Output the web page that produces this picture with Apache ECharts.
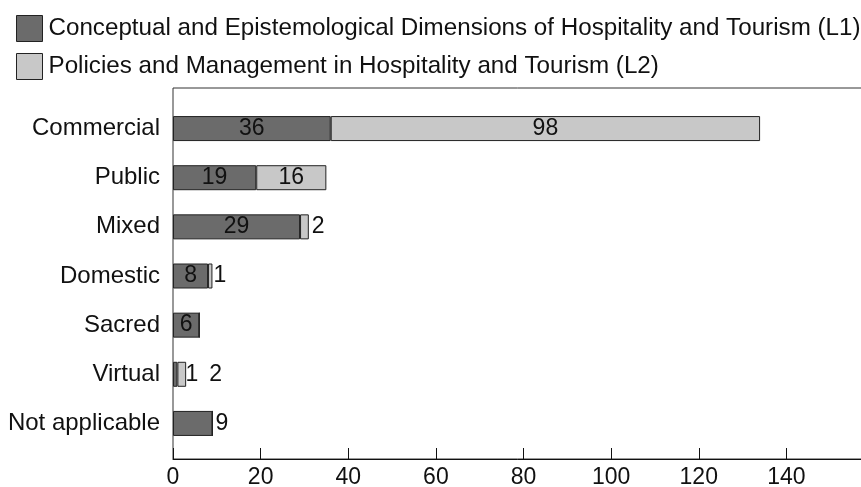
<!DOCTYPE html>
<html>
<head>
<meta charset="utf-8">
<script src="https://cdn.jsdelivr.net/npm/echarts@6/dist/echarts.min.js"></script>
<style>
  html, body { margin: 0; padding: 0; background: #fff; }
  #chart { width: 861px; height: 487px; }
</style>
</head>
<body>
<div id="chart"></div>
<script>
const categories = ['Commercial', 'Public', 'Mixed', 'Domestic', 'Sacred', 'Virtual', 'Not applicable']
const l1Values = [36, 19, 29, 8, 6, 1, 9]
const l2Values = [98, 16, 2, 1, 0, 2, 0]
const seriesNames = [
  'Conceptual and Epistemological Dimensions of Hospitality and Tourism (L1)',
  'Policies and Management in Hospitality and Tourism (L2)'
]
const xTicks = [0, 160, 20]

// labels that sit outside the bar, to the right (distance in px)
const l1Outside = { 'Virtual': 8, 'Not applicable': 3 }
const l2Outside = { 'Mixed': 3, 'Domestic': 1, 'Virtual': 23 }

const font = "'Liberation Sans', Arial, sans-serif"
const darkGrey = '#6b6b6b'
const lightGrey = '#c8c8c8'

const buildData = (values, outside) => values.map((v, i) => {
  const item = { value: v }
  const d = outside[categories[i]]
  if (d !== undefined) {
    item.label = { position: 'right', distance: d }
  }
  return item
})

const makeSeries = (name, values, outside, color) => ({
  name: name,
  type: 'bar',
  stack: 'total',
  xAxisIndex: 1,
  yAxisIndex: 1,
  barWidth: 25,
  data: buildData(values, outside),
  itemStyle: { color: color, borderColor: '#222', borderWidth: 1 },
  label: {
    show: true,
    position: 'inside',
    color: '#111',
    fontSize: 23,
    fontFamily: font,
    formatter: (p) => (p.value ? String(p.value) : '')
  },
  emphasis: { disabled: true }
})

const chart = echarts.init(document.getElementById('chart'))

const option = {
  animation: false,
  legend: {
    orient: 'vertical',
    left: 11,
    top: 10,
    itemWidth: 26,
    itemHeight: 26,
    itemGap: 11,
    icon: 'rect',
    data: seriesNames,
    textStyle: { fontSize: 24.2, fontFamily: font, color: '#111', padding: [0, 0, 0, 1] },
    itemStyle: { borderColor: '#222', borderWidth: 1 }
  },
  // plot runs past the right edge of the canvas, like the original figure
  grid: [
    { left: 173, top: 88, right: -13, bottom: 28, outerBoundsMode: 'none', show: true, borderColor: '#333', borderWidth: 1 },
    { left: 173, top: 104, right: -13, bottom: 39, outerBoundsMode: 'none' }
  ],
  xAxis: [
    {
      gridIndex: 0,
      type: 'value',
      min: xTicks[0],
      max: xTicks[1],
      interval: xTicks[2],
      splitLine: { show: false },
      axisLine: { show: true, lineStyle: { color: '#111', width: 1 } },
      axisTick: { show: true, inside: true, length: 11, lineStyle: { color: '#111' } },
      axisLabel: { fontSize: 23, fontFamily: font, color: '#111', margin: 7, showMaxLabel: false }
    },
    {
      gridIndex: 1,
      type: 'value',
      min: xTicks[0],
      max: xTicks[1],
      show: false
    }
  ],
  yAxis: [
    { gridIndex: 0, type: 'value', show: false },
    {
      gridIndex: 1,
      type: 'category',
      inverse: true,
      data: categories,
      axisLine: { show: false },
      axisTick: { show: false },
      axisLabel: { fontSize: 24, fontFamily: font, color: '#111', margin: 13 }
    }
  ],
  series: [
    makeSeries(seriesNames[0], l1Values, l1Outside, darkGrey),
    makeSeries(seriesNames[1], l2Values, l2Outside, lightGrey)
  ]
}

chart.setOption(option)
window.addEventListener('resize', () => chart.resize())
</script>
</body>
</html>
